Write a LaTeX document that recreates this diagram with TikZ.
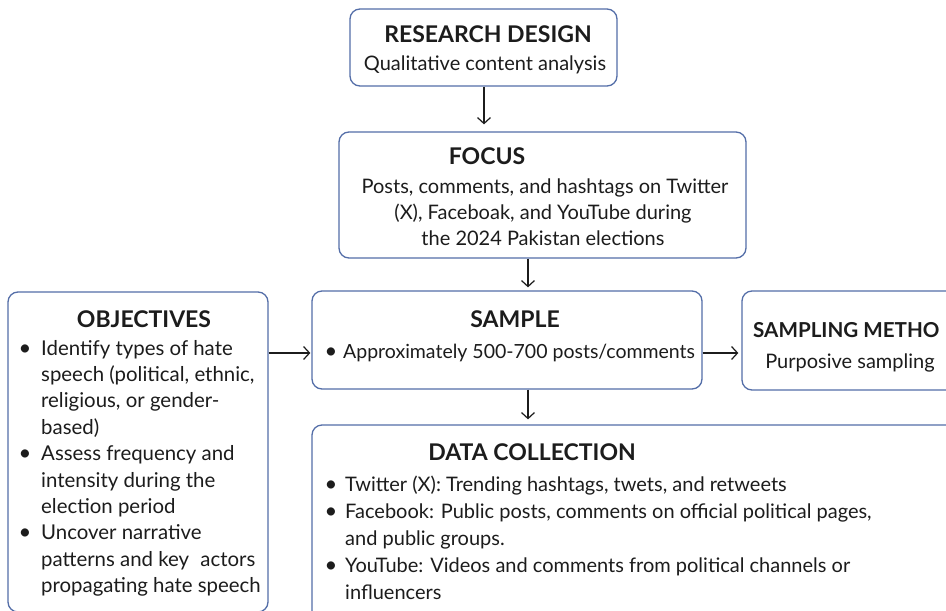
\documentclass[tikz,border=0pt]{standalone}
\usepackage{fontspec}
\setmainfont{Lato}
\usetikzlibrary{arrows.meta}
\definecolor{boxblue}{RGB}{84,110,168}
\definecolor{ink}{RGB}{28,28,28}
\begin{document}
\begin{tikzpicture}[x=1pt,y=-1pt,
  box/.style={draw=boxblue, line width=1.3pt, rounded corners=10pt, inner sep=0pt, fill=white},
  tit/.style={font=\fontsize{23}{28}\selectfont\bfseries, text=ink, inner sep=0pt, anchor=base},
  txt/.style={font=\fontsize{20}{26}\selectfont, text=ink, inner sep=0pt, anchor=base west},
  otxt/.style={font=\fontsize{20.4}{26}\selectfont, text=ink, inner sep=0pt, anchor=base west},
  ctxt/.style={font=\fontsize{20}{26}\selectfont, text=ink, inner sep=0pt, anchor=base},
  bul/.style={font=\fontsize{22}{26}\selectfont, text=ink, inner sep=0pt, anchor=base},
  arr/.style={draw=ink, line width=1.2pt, -{Straight Barb[length=6pt,width=13pt,line width=1.2pt]}}]
\path[use as bounding box] (0,0) rectangle (946,611);
\clip (0,0) rectangle (946,611);
\fill[white] (0,0) rectangle (946,611);
% boxes
\node[box, minimum width=267pt, minimum height=77pt] (rd) at (483.5,47.5) {};
\node[box, minimum width=407pt, minimum height=126pt] (focus) at (542.5,195) {};
\node[box, minimum width=390pt, minimum height=98pt] (sample) at (507,340) {};
\node[box, minimum width=260pt, minimum height=320pt] (obj) at (138,452) {};
\node[box, minimum width=260pt, minimum height=99pt] (sm) at (872,340.5) {};
\node[box, minimum width=680pt, minimum height=215pt] (dc) at (652,532.5) {};
% research design
\node[tit] (rdT) at (488,42) {RESEARCH DESIGN};
\node[ctxt] (rdS) at (485,70) {Qualitative content analysis};
% focus
\node[tit] (fT) at (487,164) {FOCUS};
\node[ctxt] (f1) at (545,193) {Posts, comments, and hashtags on Twitter};
\node[ctxt] (f2) at (543,219) {(X), Faceboak, and YouTube during};
\node[ctxt] (f3) at (543,245) {the 2024 Pakistan elections};
% sample
\node[tit] (sT) at (515,327) {SAMPLE};
\node[bul] (sb1) at (331,358) {\textbullet};
\node[txt, font=\fontsize{19.5}{26}\selectfont] (s1) at (343,358) {Approximately 500-700 posts/comments};
% sampling method
\node[tit, anchor=base west, font=\fontsize{20.6}{28}\selectfont\bfseries] (smT) at (753,337) {SAMPLING METHO};
\node[ctxt] (smS) at (850,368) {Purposive sampling};
% objectives
\node[tit] (oT) at (144,327) {OBJECTIVES};
\foreach \t [count=\i] in {Identify types of hate,
  {speech (political, ethnic,},
  {religious, or gender-},
  based),
  Assess frequency and,
  intensity during the,
  election period,
  Uncover narrative,
  patterns and key\hspace{0.3em} actors,
  propagating hate speech}
  \node[otxt] (ol\i) at (41,{355+(\i-1)*26.4}) {\t};
\foreach \i in {1,5,8}
  \node[bul] (ob\i) at (25,{355+(\i-1)*26.4}) {\textbullet};
% data collection
\node[tit] (dT) at (532,460) {DATA COLLECTION};
\foreach \t [count=\i] in {Twitter (X): Trending hashtags{,} twets{,} and retweets,
  {Facebook: Public posts, comments on official political pages,},
  and public groups.,
  YouTube: Videos and comments from political channels or,
  influencers}
  \node[txt] (dl\i) at (345,{491+(\i-1)*27}) {\t};
\foreach \i in {1,2,4}
  \node[bul] (db\i) at (331,{491+(\i-1)*27}) {\textbullet};
% connectors
\coordinate (xA) at (484,0);
\coordinate (xB) at (528,0);
\coordinate (yA) at (0,353);
\draw[arr, shorten >=7pt] (rd.south -| xA) -- (focus.north -| xA);
\draw[arr, shorten >=3pt] (focus.south -| xB) -- (sample.north -| xB);
\draw[arr, shorten >=5pt] (sample.south -| xB) -- (dc.north -| xB);
\draw[arr, shorten >=1pt] (obj.east |- yA) -- (sample.west |- yA);
\draw[arr, shorten >=3pt] (sample.east |- yA) -- (sm.west |- yA);
\end{tikzpicture}
\end{document}
